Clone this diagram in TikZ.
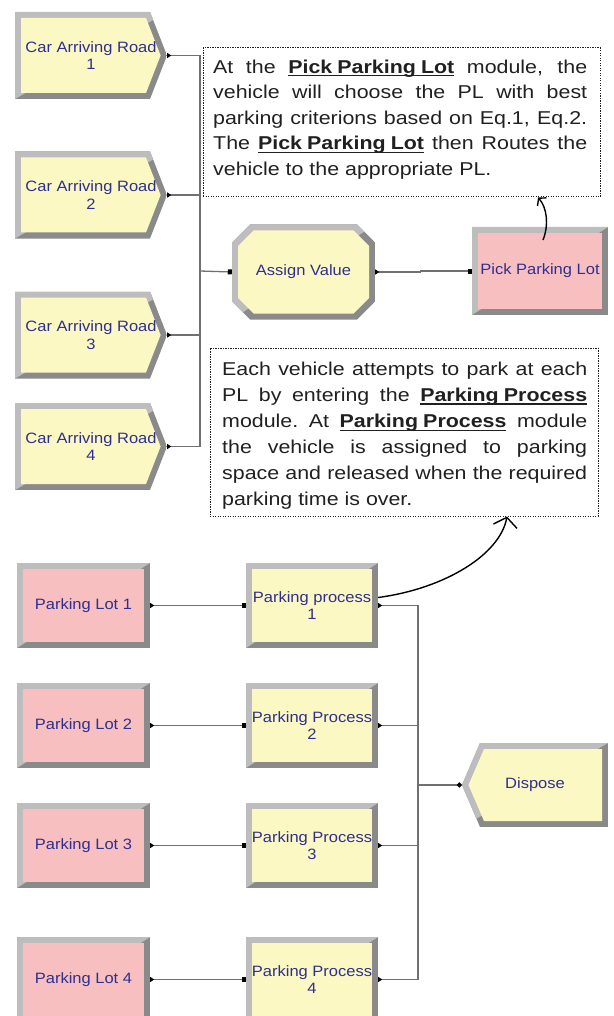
\documentclass[tikz,border=0pt]{standalone}
\usepackage{fontspec}
\setmainfont{Liberation Sans}[FakeStretch=1.1]
\newfontfamily\notefont{Liberation Sans}[FakeStretch=1.15]
\usepackage{xcolor}
\usepackage{tikz}
\usetikzlibrary{calc,arrows.meta}
\definecolor{face}{HTML}{FBF8C4}
\definecolor{pink}{HTML}{F8BFC1}
\definecolor{bevLight}{HTML}{BDBDBD}
\definecolor{bevDark}{HTML}{8A8A8A}
\definecolor{modText}{HTML}{2F2F8F}
\definecolor{wire}{HTML}{707070}
\definecolor{ink}{HTML}{202020}
\newcommand{\keyword}[1]{\setbox0\hbox{\textbf{#1}}\rlap{\rule[-3.4pt]{\wd0}{1.4pt}}\box0\relax}
\newcommand{\fullline}[1]{\makebox[\hsize][s]{\spaceskip=0.278em plus 1fil\xspaceskip=\spaceskip\relax #1}}
\newcommand{\ppcorners}{%
  \coordinate (pa) at (path picture bounding box.south west);
  \coordinate (pb) at (path picture bounding box.north east);
  \coordinate (pm) at (path picture bounding box.east);
  \coordinate (pw) at (path picture bounding box.west);}
\tikzset{
  mod/.style={text=modText, font=\fontsize{15}{17.6}\selectfont, align=center, inner sep=0pt},
  rectMod/.style={mod, path picture={\ppcorners
    \fill[bevDark] (pa) rectangle (pb);
    \fill[bevLight] (pa) -- (pa|-pb) -- (pb) -- cycle;
    \fill[#1] ($(pa)+(6pt,6pt)$) rectangle ($(pb)+(-6pt,-6pt)$);}},
  roadMod/.style={mod, minimum width=152pt, minimum height=87pt, path picture={\ppcorners
    \begin{scope}
      \clip (pa) -- (pa|-pb) -- ($(pb)+(-17pt,0pt)$) -- (pm) -- ($(pb|-pa)+(-17pt,0pt)$) -- cycle;
      \fill[bevDark] (pa) rectangle (pb);
      \fill[bevLight] (pa) -- (pa|-pb) -- (pb) -- cycle;
    \end{scope}
    \fill[face] ($(pa)+(6pt,6pt)$) -- ($(pa|-pb)+(6pt,-6pt)$) -- ($(pb)+(-21pt,-6pt)$)
      -- ($(pm)+(-6.4pt,0pt)$) -- ($(pb|-pa)+(-21pt,6pt)$) -- cycle;}},
  disposeMod/.style={mod, path picture={\ppcorners
    \begin{scope}
      \clip (pb|-pa) -- (pb) -- ($(pa|-pb)+(18pt,0pt)$) -- (pw) -- ($(pa)+(18pt,0pt)$) -- cycle;
      \fill[bevDark] (pa) rectangle (pb);
      \fill[bevLight] (pa) -- (pa|-pb) -- (pb) -- cycle;
    \end{scope}
    \fill[face] ($(pb|-pa)+(-6pt,6pt)$) -- ($(pb)+(-6pt,-6pt)$) -- ($(pa|-pb)+(22pt,-6pt)$)
      -- ($(pw)+(6.5pt,0pt)$) -- ($(pa)+(22pt,6pt)$) -- cycle;}},
  assignMod/.style={mod, path picture={\ppcorners
    \begin{scope}
      \clip ($(pa)+(18pt,0pt)$) -- ($(pa)+(0pt,18pt)$) -- ($(pa|-pb)+(0pt,-18pt)$) -- ($(pa|-pb)+(18pt,0pt)$)
        -- ($(pb)+(-18pt,0pt)$) -- ($(pb)+(0pt,-18pt)$) -- ($(pb|-pa)+(0pt,18pt)$) -- ($(pb|-pa)+(-18pt,0pt)$) -- cycle;
      \fill[bevDark] (pa) rectangle (pb);
      \fill[bevLight] (pa) -- (pa|-pb) -- (pb) -- cycle;
    \end{scope}
    \fill[face] ($(pa)+(21.5pt,6pt)$) -- ($(pa)+(6pt,21.5pt)$) -- ($(pa|-pb)+(6pt,-21.5pt)$) -- ($(pa|-pb)+(21.5pt,-6pt)$)
      -- ($(pb)+(-21.5pt,-6pt)$) -- ($(pb)+(-6pt,-21.5pt)$) -- ($(pb|-pa)+(-6pt,21.5pt)$) -- ($(pb|-pa)+(-21.5pt,6pt)$) -- cycle;}},
  link/.style={draw=wire, line width=1.3pt},
  outTip/.style={arrows={Triangle[reversed,length=4pt,width=5pt,color=black]-}},
  inTip/.style={arrows={-Square[length=4pt,width=5pt,color=black]}},
  throughTip/.style={arrows={Triangle[reversed,length=4pt,width=5pt,color=black]-Square[length=4pt,width=5pt,color=black]}},
  dotTip/.style={arrows={-Circle[length=5pt,color=black]}},
  noteBox/.style={draw=ink, line width=1pt, dash pattern=on 1.2pt off 1.3pt},
  noteText/.style={text=ink, font=\notefont\fontsize{18.6}{25.6}\selectfont, align=left, inner sep=0pt, anchor=north west},
  noteArrow/.style={draw=black, line width=1.4pt}
}
\begin{document}
\begin{tikzpicture}[x=1pt, y=-1pt]
\useasboundingbox (0,0) rectangle (613,1016);

% arriving roads
\node[roadMod] (road1) at (91,55.5) {Car Arriving Road\\1};
\node[roadMod] (road2) at (91,195) {Car Arriving Road\\2};
\node[roadMod] (road3) at (91,335) {Car Arriving Road\\3};
\node[roadMod] (road4) at (91,446.5) {Car Arriving Road\\4};

% assign and pick
\node[assignMod, minimum width=143pt, minimum height=95pt] (assign) at (303.5,272) {Assign Value};
\node[rectMod=pink, minimum width=136pt, minimum height=88pt] (pick) at (540,271) {Pick Parking Lot};

% parking lots
\node[rectMod=pink, minimum width=133pt, minimum height=85pt] (lot1) at (83.5,605.5) {Parking Lot 1};
\node[rectMod=pink, minimum width=133pt, minimum height=85pt] (lot2) at (83.5,725.5) {Parking Lot 2};
\node[rectMod=pink, minimum width=133pt, minimum height=85pt] (lot3) at (83.5,845.5) {Parking Lot 3};
\node[rectMod=pink, minimum width=133pt, minimum height=85pt] (lot4) at (83.5,979.5) {Parking Lot 4};

% parking processes
\node[rectMod=face, minimum width=132pt, minimum height=85pt] (proc1) at (312,605.5) {Parking process\\1};
\node[rectMod=face, minimum width=132pt, minimum height=85pt] (proc2) at (312,725.5) {Parking Process\\2};
\node[rectMod=face, minimum width=132pt, minimum height=85pt] (proc3) at (312,845.5) {Parking Process\\3};
\node[rectMod=face, minimum width=132pt, minimum height=85pt] (proc4) at (312,979.5) {Parking Process\\4};

% dispose
\node[disposeMod, minimum width=146pt, minimum height=84pt] (dispose) at (535,785) {Dispose};

% connectors
\coordinate (roadBus) at (200,271);
\draw[link, outTip] (road1.east) -| (roadBus);
\draw[link, outTip] (road2.east) -| (roadBus);
\draw[link, outTip] (road3.east) -| (roadBus);
\draw[link, outTip] (road4.east) -| (roadBus);
\draw[link, inTip] (roadBus) -- (assign.west);
\draw[link, throughTip] (assign.east) -- ++(45,0) |- (pick.west);

\draw[link, throughTip] (lot1.east) -- (proc1.west);
\draw[link, throughTip] (lot2.east) -- (proc2.west);
\draw[link, throughTip] (lot3.east) -- (proc3.west);
\draw[link, throughTip] (lot4.east) -- (proc4.west);

\coordinate (procBus) at (418,785);
\draw[link, outTip] (proc1.east) -| (procBus);
\draw[link, outTip] (proc2.east) -| (procBus);
\draw[link, outTip] (proc3.east) -| (procBus);
\draw[link, outTip] (proc4.east) -| (procBus);
\draw[link, dotTip] (procBus) -- (dispose.west);

% notes
\node[noteBox, minimum width=397pt, minimum height=149pt] (note1) at (401.5,122.5) {};
\node[noteText, text width=374pt] (note1text) at (213,59.4) {\noindent\spaceskip=0pt\xspaceskip=0pt
  \fullline{At the \keyword{Pick Parking Lot} module, the}\\
  \fullline{vehicle will choose the PL with best}\\
  \fullline{parking criterions based on Eq.1, Eq.2.}\\
  \fullline{The \keyword{Pick Parking Lot} then Routes the}\\
  vehicle to the appropriate PL.};
\draw[noteArrow, -{Straight Barb[length=5pt,width=12pt]}] ([shift={(3,-31)}]pick.center)
  .. controls +(6,-15) and +(9,10) .. ([xshift=136.5pt]note1.south);

\node[noteBox, minimum width=388pt, minimum height=168pt] (note2) at (404,432) {};
\node[noteText, text width=365pt, font=\notefont\fontsize{18.6}{26.1}\selectfont] (note2text) at (222,361.7) {\noindent\spaceskip=0pt\xspaceskip=0pt
  \fullline{Each vehicle attempts to park at each}\\
  \fullline{PL by entering the \keyword{Parking Process}}\\
  \fullline{module. At \keyword{Parking Process} module}\\
  \fullline{the vehicle is assigned to parking}\\
  \fullline{space and released when the required}\\
  parking time is over.};
\draw[noteArrow, -{Straight Barb[length=9pt,width=24pt]}] ([yshift=8pt]proc1.east)
  .. controls +(67,-9) and +(-7,38) .. ([xshift=103pt]note2.south);
\end{tikzpicture}
\end{document}
